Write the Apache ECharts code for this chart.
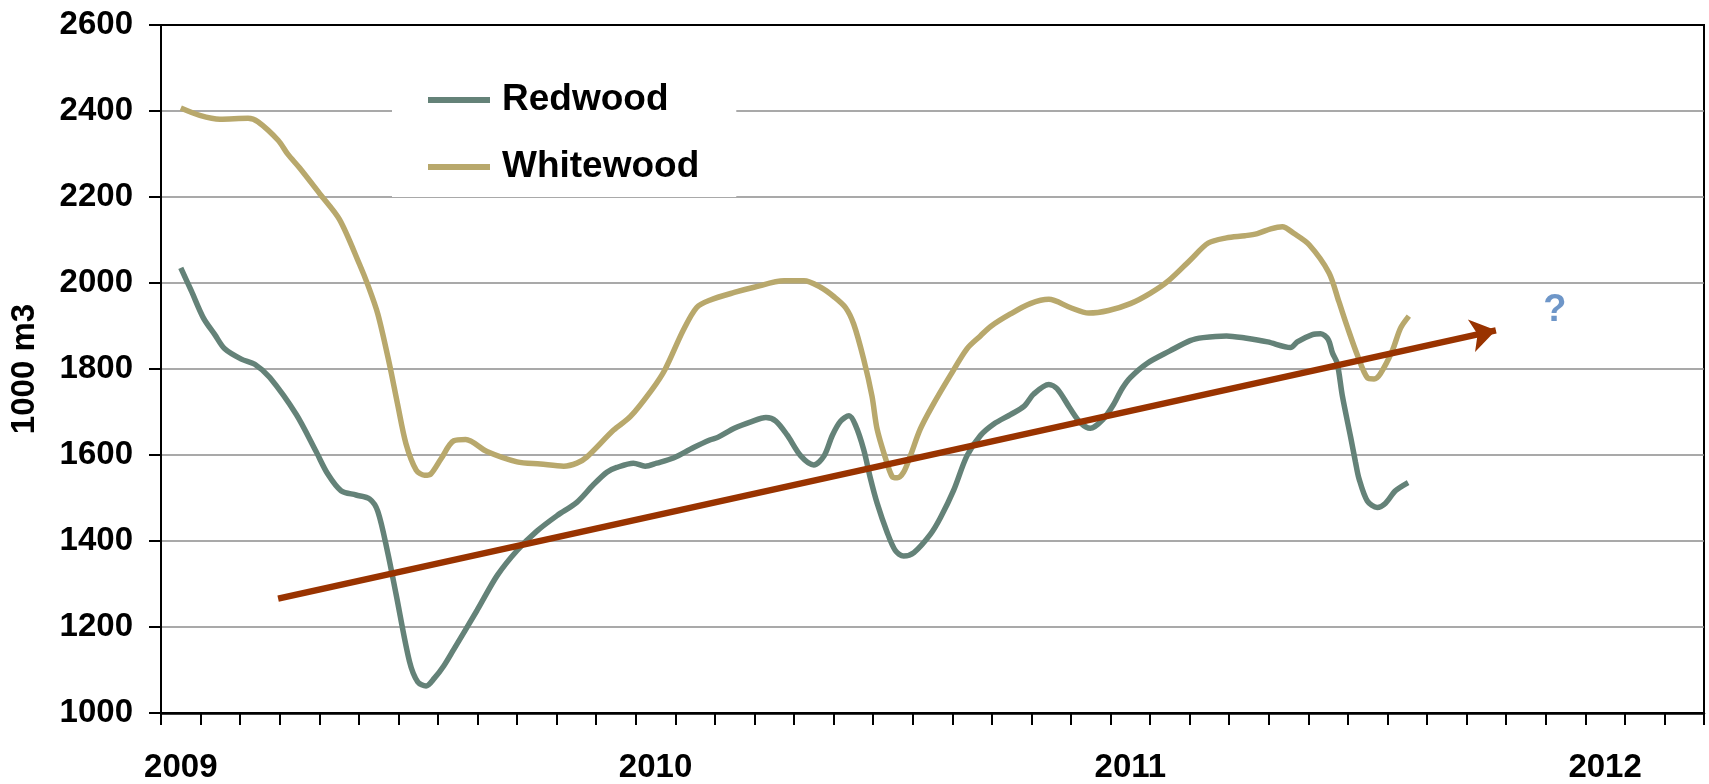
<!DOCTYPE html>
<html>
<head>
<meta charset="utf-8">
<script src="https://cdn.jsdelivr.net/npm/echarts@6/dist/echarts.min.js"></script>
<style>html,body{margin:0;padding:0;background:#fff}#c{width:1709px;height:784px}</style>
</head>
<body>
<div id="c"></div>
<script>
// Month categories: Jan 2009 .. Mar 2012 (x axis ticks between months)
const monthCategories = [];
for (let y = 2009; y <= 2012; y++) {
  for (let m = 1; m <= 12; m++) {
    if (monthCategories.length < 39) monthCategories.push(y + '-' + String(m).padStart(2, '0'));
  }
}
const yearLabels = ['2009', '2010', '2011', '2012'];

// x positions in months since start of Jan 2009
const redwoodMonths = [0.50,0.77,1.07,1.36,1.61,2.03,2.37,2.75,3.42,3.92,4.22,4.55,4.93,5.27,5.48,5.73,5.94,6.28,6.49,6.70,6.91,7.15,7.40,7.99,8.50,9.00,9.50,10.01,10.51,10.93,11.27,11.52,11.94,12.24,12.53,12.95,13.45,13.87,14.07,14.49,14.91,15.29,15.54,15.83,16.17,16.50,16.76,16.97,17.18,17.39,17.55,17.76,17.93,18.10,18.35,18.56,18.77,19.03,19.45,19.70,20.03,20.37,20.71,21.05,21.47,21.81,22.06,22.44,22.65,22.98,23.24,23.49,23.82,24.08,24.29,24.50,24.92,25.50,26.01,26.34,26.93,27.40,27.97,28.55,28.72,29.10,29.31,29.50,29.61,29.73,29.86,30.07,30.19,30.28,30.49,30.74,30.95,31.20,31.52];
const redwoodValues = [2035,1981,1919,1880,1847,1823,1811,1780,1694,1608,1555,1517,1507,1498,1469,1373,1277,1120,1072,1063,1081,1110,1148,1239,1320,1378,1423,1459,1490,1531,1560,1571,1581,1574,1581,1593,1617,1635,1641,1662,1677,1687,1679,1646,1598,1577,1598,1646,1679,1691,1670,1613,1546,1488,1421,1378,1365,1373,1416,1454,1517,1598,1645,1672,1694,1713,1742,1764,1754,1708,1675,1662,1684,1718,1754,1780,1813,1842,1866,1873,1877,1872,1863,1850,1863,1880,1882,1869,1837,1813,1737,1641,1584,1545,1493,1478,1488,1517,1536];

const whitewoodMonths = [0.50,0.98,1.49,2.20,2.45,2.96,3.21,3.50,4.01,4.51,5.02,5.23,5.48,5.77,5.98,6.19,6.45,6.66,6.82,7.07,7.40,7.70,8.24,9.00,9.59,10.18,10.51,10.76,11.44,11.86,12.40,12.74,13.20,13.54,13.87,14.49,14.99,15.75,16.25,16.67,17.01,17.30,17.51,17.76,17.97,18.10,18.31,18.48,18.61,18.77,18.94,19.19,19.49,19.95,20.37,20.71,20.97,21.47,21.97,22.44,22.98,23.45,23.95,24.50,25.00,25.46,26.01,26.47,26.93,27.40,27.71,28.05,28.34,28.64,29.02,29.52,29.77,29.98,30.24,30.49,30.66,30.82,31.12,31.33,31.54];
const whitewoodValues = [2407,2390,2381,2383,2375,2332,2299,2268,2208,2148,2043,1995,1928,1813,1718,1627,1565,1553,1556,1590,1633,1636,1608,1584,1579,1574,1581,1595,1658,1689,1751,1799,1890,1943,1960,1978,1990,2005,2005,1990,1968,1943,1904,1823,1737,1660,1593,1550,1547,1560,1598,1660,1713,1785,1847,1877,1899,1928,1952,1962,1943,1930,1936,1952,1976,2005,2053,2093,2105,2110,2115,2126,2131,2115,2089,2024,1957,1899,1832,1780,1777,1789,1842,1895,1923];

// Trend arrow (start / end) and the question mark anchor, in [month, value]
const trendStart = [2.96, 1266];
const trendEnd = [33.74, 1890];
const questionPoint = [35.23, 1937];

const FONT = '"Liberation Sans", Arial, sans-serif';
const pair = (xs, ys) => xs.map((x, i) => [x, ys[i]]);

const chart = echarts.init(document.getElementById('c'), null, {renderer: 'canvas'});
chart.setOption({
  animation: false,
  backgroundColor: '#fff',
  grid: {left: 161, right: 5, top: 25, bottom: 65, show: true, borderColor: '#000', borderWidth: 2},
  legend: {
    data: ['Redwood', 'Whitewood'],
    orient: 'vertical', left: 392, top: 60,
    padding: [20, 37, 10, 36], itemGap: 27,
    itemWidth: 62, itemHeight: 6, icon: 'rect',
    backgroundColor: '#fff',
    textStyle: {fontSize: 37, fontWeight: 'bold', color: '#000', fontFamily: FONT, lineHeight: 40, padding: [0, 0, 0, 7]}
  },
  xAxis: [
    {
      type: 'category', data: monthCategories, boundaryGap: true, position: 'bottom',
      axisLine: {lineStyle: {color: '#000', width: 2.5}},
      axisTick: {show: true, interval: 0, length: 12, lineStyle: {color: '#000', width: 2}},
      axisLabel: {interval: 11, formatter: v => yearLabels.find(y => v.startsWith(y)) || '',
        color: '#000', fontSize: 33, fontWeight: 'bold', fontFamily: FONT, margin: 38},
      splitLine: {show: false}
    },
    {type: 'value', min: 0, max: 39, show: false}
  ],
  yAxis: {
    type: 'value', min: 1000, max: 2600, interval: 200,
    name: '1000 m3', nameLocation: 'middle', nameRotate: 90, nameGap: 120,
    nameTextStyle: {fontSize: 33, fontWeight: 'bold', color: '#000', fontFamily: FONT},
    axisLine: {show: true, lineStyle: {color: '#000', width: 2}},
    axisTick: {show: true, length: 12, lineStyle: {color: '#000', width: 2}},
    axisLabel: {color: '#000', fontSize: 33, fontWeight: 'bold', fontFamily: FONT, margin: 28,
      formatter: v => String(v)},
    splitLine: {show: true, showMinLine: false, showMaxLine: false, lineStyle: {color: '#8c8c8c', width: 1.5}}
  },
  series: [
    {
      name: 'Redwood', type: 'line', xAxisIndex: 1, data: pair(redwoodMonths, redwoodValues),
      showSymbol: false, smooth: 0.3, z: 3,
      lineStyle: {color: '#648278', width: 5.5}, itemStyle: {color: '#648278'}
    },
    {
      name: 'Whitewood', type: 'line', xAxisIndex: 1, data: pair(whitewoodMonths, whitewoodValues),
      showSymbol: false, smooth: 0.3, z: 3,
      lineStyle: {color: '#b8a86c', width: 5.5}, itemStyle: {color: '#b8a86c'}
    },
    {
      name: 'Trend', type: 'lines', coordinateSystem: 'cartesian2d', xAxisIndex: 1, yAxisIndex: 0,
      data: [{coords: [trendStart, trendEnd]}],
      symbol: ['none', 'arrow'], symbolSize: 25, z: 5, silent: true,
      lineStyle: {color: '#993300', width: 6.5, opacity: 1, curveness: 0}
    },
    {
      name: 'Question', type: 'scatter', xAxisIndex: 1, data: [questionPoint],
      symbolSize: 1, itemStyle: {color: 'rgba(0,0,0,0)'}, silent: true, z: 5,
      label: {show: true, position: 'inside', formatter: '?', color: '#4a7cba', fontSize: 38, fontWeight: 'bold', fontFamily: FONT}
    }
  ]
});
</script>
</body>
</html>
